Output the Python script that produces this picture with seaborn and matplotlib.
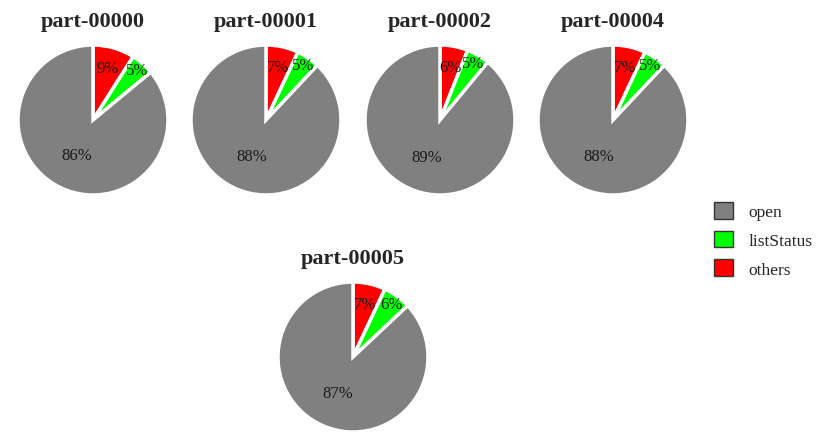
import matplotlib
matplotlib.use("Agg")
import matplotlib.pyplot as plt
import seaborn as sns
import numpy as np
from matplotlib.patches import Patch

sns.set_theme(style="white")
plt.rcParams['font.family'] = ['Liberation Serif', 'DejaVu Serif']

parts = ["part-00000", "part-00001", "part-00002", "part-00004", "part-00005"]
categories = ["others", "listStatus", "open"]
others = [9, 7, 6, 7, 7]
list_status = [5, 5, 5, 5, 6]
open_ = [86, 88, 89, 88, 87]
colors = {"open": "#808080", "listStatus": "#00ff00", "others": "#ff0000"}

W, H = 831, 439
fig = plt.figure(figsize=(W / 100, H / 100), dpi=100)

centers = [(93, 121), (266, 121), (440, 121), (613, 121), (353, 358)]
R = 75
label_dist = [0.72, 0.88, 0.52]

for i, part in enumerate(parts):
    cx, cy = centers[i]
    ax = fig.add_axes([(cx - R) / W, (H - cy - R) / H, 2 * R / W, 2 * R / H])
    vals = [others[i], list_status[i], open_[i]]
    wedges, texts, autotexts = ax.pie(
        vals, colors=[colors[c] for c in categories], startangle=90,
        counterclock=False, autopct="%d%%",
        wedgeprops=dict(edgecolor="white", linewidth=2.5),
        textprops=dict(fontsize=12, color="#1a1a1a"))
    for w, t, d in zip(wedges, autotexts, label_dist):
        ang = np.deg2rad((w.theta1 + w.theta2) / 2)
        t.set_position((d * np.cos(ang), d * np.sin(ang)))
    ax.set_xlim(-1, 1)
    ax.set_ylim(-1, 1)
    ax.set_aspect("equal")
    ax.axis("off")
    ax.set_title(part, fontsize=16, fontweight="bold", pad=14)

handles = [Patch(facecolor=colors[c], edgecolor="#333333", linewidth=1) for c in ["open", "listStatus", "others"]]
fig.legend(handles, ["open", "listStatus", "others"], loc="upper left",
           bbox_to_anchor=(714 / W, 1 - 203 / H), frameon=False, fontsize=12.5,
           handlelength=1.1, handleheight=1.1, labelspacing=0.6, handletextpad=0.9,
           borderpad=0, borderaxespad=0)

fig.savefig("out.png", dpi=100)
